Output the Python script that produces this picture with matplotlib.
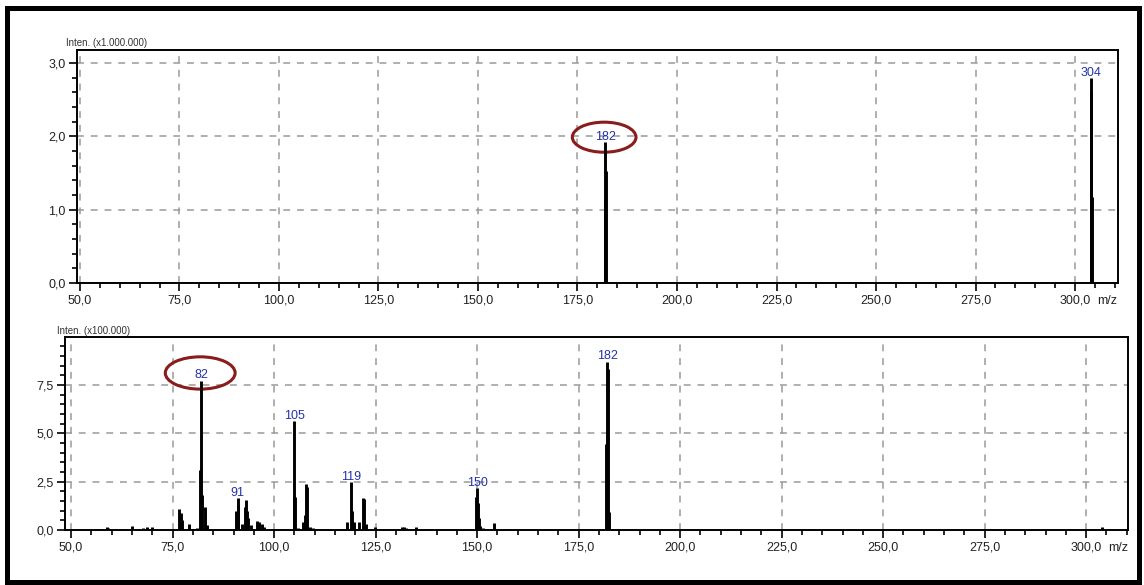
import matplotlib
matplotlib.use("Agg")
import matplotlib.pyplot as plt
from matplotlib.patches import Ellipse, Rectangle
from matplotlib.ticker import MultipleLocator, FuncFormatter

plt.rcParams['font.family'] = ['Liberation Sans', 'DejaVu Sans']

# ---- Spectrum 1: intensity in units of 1,000,000 ----
top_mz = [181.8, 181.9, 182.0, 182.1, 303.9, 304.0, 304.1, 304.3]
top_int = [0.05, 1.13, 1.92, 1.53, 0.34, 2.80, 2.61, 1.17]
top_label_mz = [182.0, 304.0]
top_label_int = [1.92, 2.80]

# ---- Spectrum 2: intensity in units of 100,000 ----
bot_mz = [58.8, 59.2, 65.0, 67.6, 68.6, 70.0,
          76.6, 77.0, 77.3, 79.0, 81.0,
          81.8, 82.0, 82.2, 83.0, 83.5,
          90.7, 91.0, 91.2, 92.0,
          92.8, 93.0, 93.3, 93.6, 94.2,
          95.8, 96.2, 97.0, 97.4,
          104.8, 105.0, 105.2, 106.0,
          107.2, 107.5, 107.8, 108.0, 108.8, 109.5,
          118.0, 119.0, 119.2, 119.6,
          121.0, 121.9, 122.2, 122.6, 124.9,
          131.6, 132.0, 132.6, 135.0,
          149.8, 150.0, 150.2, 150.4, 150.8, 151.5, 154.2,
          181.8, 182.0, 182.15, 182.5, 303.9]
bot_int = [0.15, 0.12, 0.20, 0.12, 0.15, 0.18,
           1.08, 0.88, 0.50, 0.30, 0.10,
           3.12, 7.72, 1.80, 1.20, 0.28,
           1.00, 1.66, 1.30, 0.30,
           1.20, 1.56, 1.00, 0.60, 0.25,
           0.45, 0.40, 0.30, 0.15,
           1.73, 5.64, 1.73, 0.10,
           0.40, 0.76, 2.40, 2.20, 0.15, 0.10,
           0.40, 2.46, 1.00, 0.40,
           0.40, 1.66, 1.60, 0.30, 0.15,
           0.17, 0.17, 0.10, 0.17,
           1.73, 2.18, 1.40, 0.60, 0.20, 0.10, 0.35,
           4.43, 8.70, 8.30, 0.95, 0.15]
bot_label_mz = [82.0, 91.0, 105.0, 119.0, 150.0, 182.0]
bot_label_int = [7.72, 1.66, 5.64, 2.46, 2.18, 8.70]

# highlighted peaks (ring drawn around their labels)
top_ring = (182.0, 1.92)
bot_ring = (82.0, 7.72)

W, H = 1144, 585
fig = plt.figure(figsize=(W / 100, H / 100), dpi=100)

ax1 = fig.add_axes([77 / W, 1 - 283 / H, 1041 / W, 233 / H])
ax2 = fig.add_axes([65 / W, 1 - 530 / H, 1063 / W, 193 / H])

label_color = '#2633a6'
ring_color = '#8a1c1c'


def fmt(v, _):
    return f"{v:.1f}".replace('.', ',')


def style(ax, xlim, ylim, ymajor, yminor):
    ax.set_xlim(*xlim)
    ax.set_ylim(*ylim)
    ax.xaxis.set_major_locator(MultipleLocator(25))
    ax.xaxis.set_minor_locator(MultipleLocator(5))
    ax.yaxis.set_major_locator(MultipleLocator(ymajor))
    ax.yaxis.set_minor_locator(MultipleLocator(yminor))
    ax.xaxis.set_major_formatter(FuncFormatter(fmt))
    ax.yaxis.set_major_formatter(FuncFormatter(fmt))
    ax.grid(True, which='major', linestyle=(0, (4.5, 4.5)), color='#9a9a9a', lw=1.1)
    ax.set_axisbelow(True)
    for s in ax.spines.values():
        s.set_linewidth(1.4)
        s.set_color('black')
    ax.tick_params(which='major', direction='out', length=5.5, width=1.2,
                   labelsize=9, pad=2.5, colors='black', labelcolor='#222222')
    ax.tick_params(which='minor', direction='out', length=3.5, width=1.2)
    ax.annotate('m/z', xy=(300, 0), xycoords=('data', 'axes fraction'),
                xytext=(16, -8.5), textcoords='offset points',
                ha='left', va='top', fontsize=9, color='#222222')


style(ax1, (49.25, 310.8), (0, 3.18), 1.0, 0.2)
style(ax2, (48.5, 310.3), (0, 9.98), 2.5, 0.5)

ax1.vlines(top_mz, 0, top_int, colors='black', lw=2.1)
ax2.vlines(bot_mz, 0, bot_int, colors='black', lw=2.1)

for ax, xs, ys in ((ax1, top_label_mz, top_label_int),
                   (ax2, bot_label_mz, bot_label_int)):
    for x, y in zip(xs, ys):
        ax.annotate(f"{x:.0f}", xy=(x, y), xytext=(0, -0.5),
                    textcoords='offset points', ha='center', va='bottom',
                    fontsize=9, color=label_color)

# rings around the highlighted labels
ax1.add_patch(Ellipse((top_ring[0] - 0.3, top_ring[1] + 0.07), 16.0, 0.41,
                      fill=False, ec=ring_color, lw=2.2))
ax2.add_patch(Ellipse((bot_ring[0] - 0.2, bot_ring[1] + 0.4), 17.2, 1.67,
                      fill=False, ec=ring_color, lw=2.2))

fig.text(66 / W, 1 - 48.5 / H, 'Inten. (x1.000.000)', fontsize=7,
         color='#333333', va='bottom', ha='left')
fig.text(57 / W, 1 - 336.5 / H, 'Inten. (x100.000)', fontsize=7,
         color='#333333', va='bottom', ha='left')

# outer frame
fig.patches.append(Rectangle((6.5 / W, 3.5 / H), 1132.5 / W, 574 / H,
                             transform=fig.transFigure, fill=False,
                             ec='black', lw=3.6))

fig.savefig('out.png', dpi=100)
